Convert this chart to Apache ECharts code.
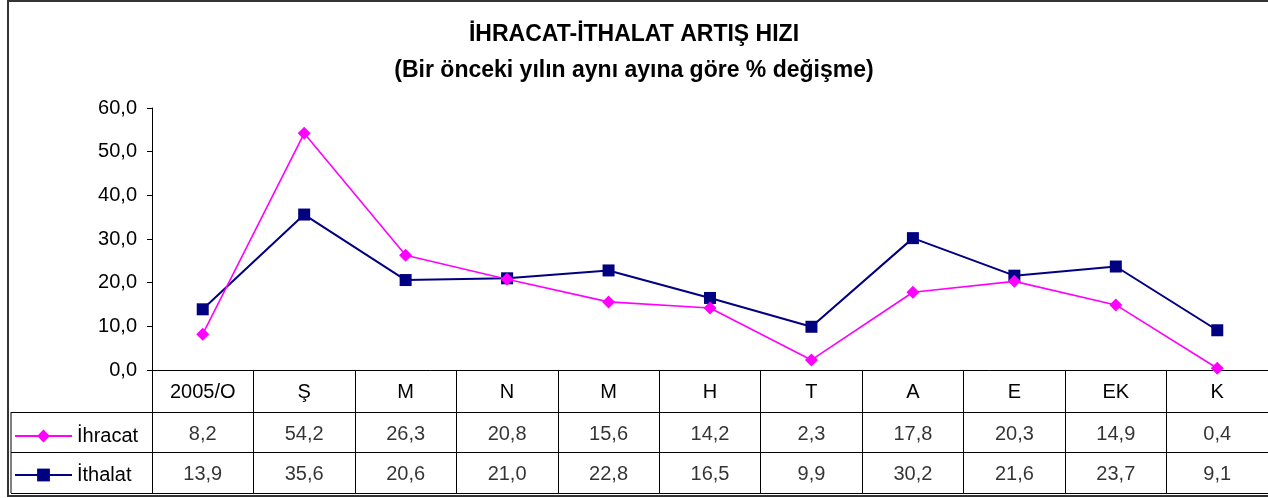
<!DOCTYPE html>
<html>
<head>
<meta charset="utf-8">
<script src="https://cdn.jsdelivr.net/npm/echarts@6/dist/echarts.min.js"></script>
<style>
  html, body { margin: 0; padding: 0; background: #fff; }
  #chart { width: 1268px; height: 498px; }
</style>
</head>
<body>
<div id="chart"></div>
<script>
// aylar (tablo başlığı)
const months = ['2005/O', 'Ş', 'M', 'N', 'M', 'H', 'T', 'A', 'E', 'EK', 'K']
const rowNames = ['İhracat', 'İthalat']
const ihracat = [8.2, 54.2, 26.3, 20.8, 15.6, 14.2, 2.3, 17.8, 20.3, 14.9, 0.4]
const ithalat = [13.9, 35.6, 20.6, 21.0, 22.8, 16.5, 9.9, 30.2, 21.6, 23.7, 9.1]
const yTicks = { min: 0, max: 60, interval: 10 }

const fmt = v => Number(v).toFixed(1).replace('.', ',')
const FONT = 'Liberation Sans, Arial, sans-serif'
const FS = 20

// tablo hücreleri
const tableCells = []
;[ihracat, ithalat].forEach((arr, r) => {
    arr.forEach((v, i) => {
        tableCells.push([i, r, v])
    })
})

const chart = echarts.init(document.getElementById('chart'))
const option = {
    backgroundColor: '#fff',
    animation: false,
    title: [
        {
            text: 'İHRACAT-İTHALAT ARTIŞ HIZI',
            left: 'center',
            top: 18,
            textStyle: { fontFamily: FONT, fontSize: 23, fontWeight: 'bold', color: '#000' },
        },
        {
            text: '(Bir önceki yılın aynı ayına göre % değişme)',
            left: 'center',
            top: 54,
            textStyle: { fontFamily: FONT, fontSize: 23, fontWeight: 'bold', color: '#000' },
        },
    ],
    legend: {
        data: rowNames,
        orient: 'vertical',
        left: 14,
        top: 426,
        bottom: 0,
        padding: 0,
        itemWidth: 57,
        itemHeight: 16,
        itemGap: 19,
        textStyle: { fontFamily: FONT, fontSize: FS, color: '#000' },
    },
    grid: [
        { left: 152, right: 0, top: 108, bottom: 128 },
        { left: 152, right: 0, top: 412, bottom: 5 },
    ],
    xAxis: [
        {
            type: 'category',
            gridIndex: 0,
            data: months,
            boundaryGap: true,
            axisLine: { lineStyle: { color: '#000', width: 1 } },
            axisTick: { show: true, length: 123, interval: 0, lineStyle: { color: '#000' } },
            axisLabel: { interval: 0, margin: 12, color: '#000', fontFamily: FONT, fontSize: FS },
        },
        {
            type: 'category',
            gridIndex: 1,
            data: months,
            boundaryGap: true,
            axisLine: { show: false },
            axisTick: { show: false },
            axisLabel: { show: false },
        },
    ],
    yAxis: [
        {
            type: 'value',
            gridIndex: 0,
            min: yTicks.min,
            max: yTicks.max,
            interval: yTicks.interval,
            axisLine: { show: true, lineStyle: { color: '#000' } },
            axisTick: { show: true, length: 5, lineStyle: { color: '#000' } },
            splitLine: { show: false },
            axisLabel: { formatter: fmt, margin: 15, color: '#000', fontFamily: FONT, fontSize: FS },
        },
        {
            type: 'category',
            gridIndex: 1,
            data: rowNames,
            inverse: true,
            boundaryGap: true,
            axisLine: { show: true, lineStyle: { color: '#000' } },
            axisTick: { show: true, length: 141, interval: 0, lineStyle: { color: '#000' } },
            axisLabel: { show: false },
            splitLine: { show: true, interval: 0, lineStyle: { color: '#000', width: 1 } },
        },
    ],
    series: [
        {
            name: 'İhracat',
            type: 'line',
            xAxisIndex: 0,
            yAxisIndex: 0,
            data: ihracat,
            symbol: 'diamond',
            symbolSize: 13,
            lineStyle: { color: '#FF00FF', width: 1.6 },
            itemStyle: { color: '#FF00FF' },
            z: 3,
        },
        {
            name: 'İthalat',
            type: 'line',
            xAxisIndex: 0,
            yAxisIndex: 0,
            data: ithalat,
            symbol: 'rect',
            symbolSize: 12,
            lineStyle: { color: '#000080', width: 2 },
            itemStyle: { color: '#000080' },
            z: 2,
        },
        {
            name: 'tablo',
            type: 'scatter',
            xAxisIndex: 1,
            yAxisIndex: 1,
            data: tableCells,
            symbolSize: 2,
            itemStyle: { color: 'rgba(0,0,0,0)' },
            label: {
                show: true,
                position: 'inside',
                formatter: p => fmt(p.value[2]),
                color: '#000',
                fontFamily: FONT,
                fontSize: FS,
                offset: [0, 2],
            },
            silent: true,
            z: 5,
        },
    ],
    graphic: [
        // dış çerçeve
        {
            type: 'rect',
            shape: { x: 8, y: 1, width: 1275, height: 495 },
            style: { fill: null, stroke: '#333', lineWidth: 2 },
            silent: true,
        },
        // tablo sol kenarı
        {
            type: 'line',
            shape: { x1: 11, y1: 412, x2: 11, y2: 493 },
            style: { stroke: '#000', lineWidth: 1 },
            silent: true,
        },
    ],
}
chart.setOption(option)
</script>
</body>
</html>
